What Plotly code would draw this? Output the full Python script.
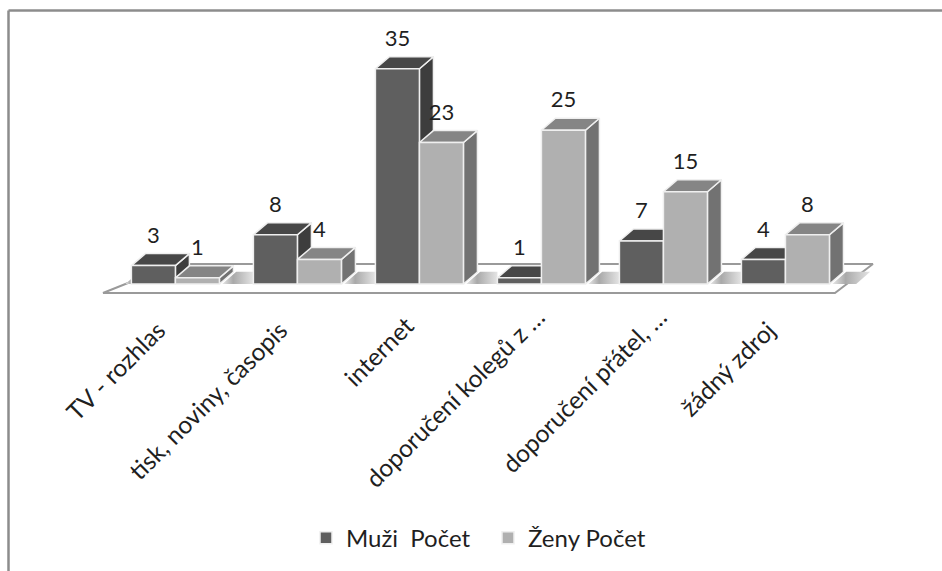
import plotly.graph_objects as go

categories = ["TV - rozhlas", "tisk, noviny, časopis", "internet",
              "doporučení kolegů z …", "doporučení přátel, …", "žádný zdroj"]
muzi = [3, 8, 35, 1, 7, 4]
zeny = [1, 4, 23, 25, 15, 8]
series_names = ["Muži\u00a0\u00a0Počet", "Ženy Počet"]

W, H = 942, 571
FONT = "Lato"
TXT = "#1f1f1f"
XD = [90 / W, 890 / W]
YD = [275 / H, 541 / H]
XR = [-0.7, 5.857]
YR = [-1.95, 41.3]
BAR = 0.3607          # bar width in x units
DX, DY = 0.1148, 1.95 # 3D depth in axis units
LABEL_UP = 4.6
LABEL_PAD = [3, 3, 2, 0, 0, 3]  # trailing spaces that pull a tick label along its slant

COL = {"m": ("#5f5f5f", "#474747", "#3d3d3d"), "z": ("#b0b0b0", "#858585", "#727272")}
EDGE = "#efefef"

fig = go.Figure()

# floor
fig.add_trace(go.Scatter(x=[-0.594, 5.406, 5.717, 0.0, -0.594], y=[-1.46, -1.46, 3.25, 3.25, -1.46],
                         mode="lines", fill="toself", fillcolor="white",
                         line=dict(color="#9a9a9a", width=2), hoverinfo="skip", showlegend=False))

# shading on the floor between the groups
for i in range(-1, 6):
    left = i + BAR + DX * 0.2 if i >= 0 else -0.41
    right = i + 1 - BAR if i < 5 else 5.58
    if i < 0:
        right = -BAR
    fig.add_trace(go.Scatter(x=[left, right, right + (DX if i == 5 else 0), left + DX, left],
                             y=[0, 0, 2, 2, 0], mode="lines", line=dict(width=0),
                             fill="toself", hoverinfo="skip", showlegend=False,
                             fillgradient=dict(type="horizontal",
                                               colorscale=[[0, "#e8e8e8"], [0.35, "#a9a9a9"], [1, "#e4e4e4"]])))


def faces(x0, v, cols):
    x1 = x0 + BAR
    # side
    fig.add_trace(go.Scatter(x=[x1, x1 + DX, x1 + DX, x1, x1], y=[0, DY, v + DY, v, 0],
                             mode="lines", fill="toself", fillcolor=cols[2],
                             line=dict(color=EDGE, width=1.5), hoverinfo="skip", showlegend=False))
    # top
    fig.add_trace(go.Scatter(x=[x0, x1, x1 + DX, x0 + DX, x0], y=[v, v, v + DY, v + DY, v],
                             mode="lines", fill="toself", fillcolor=cols[1],
                             line=dict(color=EDGE, width=1.5), hoverinfo="skip", showlegend=False))


for i in range(len(categories)):
    faces(i - BAR, muzi[i], COL["m"])
    faces(i, zeny[i], COL["z"])

# front faces
idx = list(range(len(categories)))
for name, vals, c, grp in ((series_names[0], muzi, COL["m"][0], "m"), (series_names[1], zeny, COL["z"][0], "z")):
    fig.add_trace(go.Bar(x=idx, y=vals, name=name, xaxis="x2", yaxis="y2", offsetgroup=grp,
                         marker=dict(color=c, line=dict(color=EDGE, width=1.5))))

# value labels
fig.add_trace(go.Scatter(x=[i - BAR / 2 for i in idx] + [i + BAR / 2 for i in idx],
                         y=[v + LABEL_UP for v in muzi] + [v + LABEL_UP for v in zeny],
                         text=[str(v) for v in muzi + zeny], mode="text", textposition="middle center",
                         textfont=dict(family=FONT, size=22, color=TXT),
                         xaxis="x2", yaxis="y2", hoverinfo="skip", showlegend=False))

fig.update_layout(
    width=W, height=H, margin=dict(l=0, r=0, t=0, b=0, autoexpand=False),
    paper_bgcolor="white", plot_bgcolor="rgba(0,0,0,0)",
    barmode="group", bargap=1 - 2 * BAR, bargroupgap=0,
    font=dict(family=FONT, size=24, color=TXT),
    xaxis=dict(domain=XD, range=XR, tickmode="array", tickvals=[i - 0.03 for i in idx],
               ticktext=[c + "\u00a0" * p for c, p in zip(categories, LABEL_PAD)], tickangle=-45,
               ticklabelstandoff=1, automargin=False,
               showgrid=False, zeroline=False, showline=False, ticks="",
               tickfont=dict(family=FONT, size=24.5, color=TXT), fixedrange=True),
    yaxis=dict(domain=YD, range=YR, showticklabels=False, showgrid=False, zeroline=False,
               showline=False, fixedrange=True),
    xaxis2=dict(domain=XD, range=XR, overlaying="x", visible=False, fixedrange=True),
    yaxis2=dict(domain=YD, range=YR, overlaying="y", visible=False, fixedrange=True),
    legend=dict(orientation="h", x=306 / W, xanchor="left", y=0.0575, yanchor="middle", yref="container",
                entrywidth=137, entrywidthmode="pixels",
                font=dict(family=FONT, size=24, color=TXT), bgcolor="rgba(0,0,0,0)",
                itemclick=False, itemdoubleclick=False),
    shapes=[
        dict(type="line", xref="paper", yref="paper", x0=8.5 / W, x1=8.5 / W, y0=0, y1=1 - 10.5 / H,
             line=dict(color="#8c8c8c", width=2.5)),
        dict(type="line", xref="paper", yref="paper", x0=8.5 / W, x1=1, y0=1 - 10.5 / H, y1=1 - 10.5 / H,
             line=dict(color="#8c8c8c", width=2.5)),
    ],
)

fig.write_html("out.html", config=dict(displayModeBar=False), post_script="document.body.style.margin='0';")
